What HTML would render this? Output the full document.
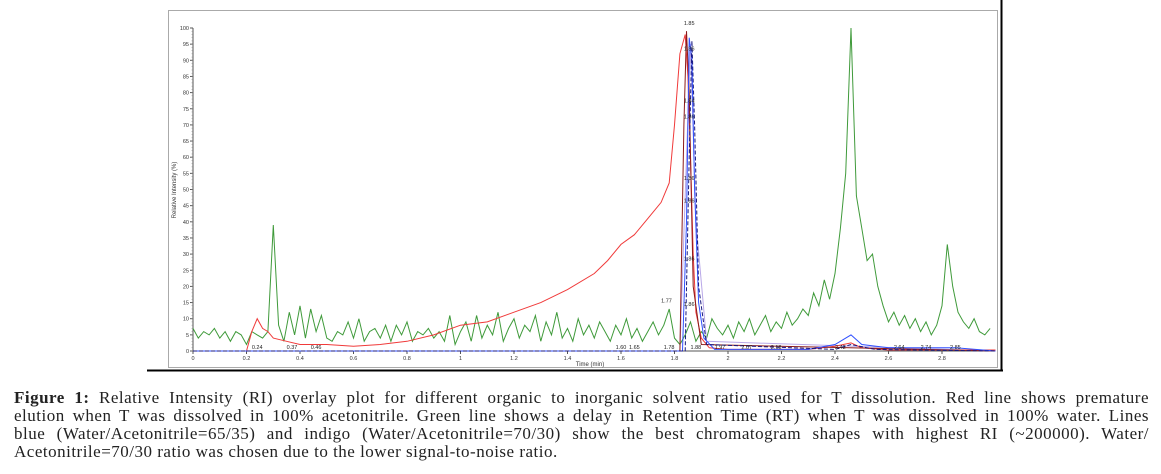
<!DOCTYPE html>
<html><head><meta charset="utf-8"><style>
html,body{margin:0;padding:0;background:#fff;width:1161px;height:474px;overflow:hidden}
#cap{position:absolute;left:14px;top:389px;width:1135px;font-family:"Liberation Serif",serif;font-size:17px;line-height:18px;color:#222;letter-spacing:0.5px;white-space:nowrap}
#cap div{text-align:justify;text-align-last:justify;height:18px}
#cap div.last{text-align-last:left}
#cap b{font-weight:bold}
</style></head><body>
<svg id="chart" width="1161" height="380" style="position:absolute;left:0;top:0" font-family="Liberation Sans, sans-serif">
<line x1="147" y1="370.5" x2="1003" y2="370.5" stroke="#000" stroke-width="2"/>
<line x1="1001.5" y1="0" x2="1001.5" y2="371" stroke="#000" stroke-width="2"/>
<rect x="168.5" y="10.5" width="829" height="357" fill="none" stroke="#aaa"/>
<g id="axes"></g><g id="series"></g><g id="labels"></g>
<text x="176" y="190" font-size="6" fill="#333" text-anchor="middle" transform="rotate(-90 176 190)">Relative Intensity (%)</text>
<text x="590" y="366" font-size="6" fill="#333" text-anchor="middle">Time (min)</text>
</svg>
<div id="cap">
<div style="white-space:normal"><b>Figure 1:</b> Relative Intensity (RI) overlay plot for different organic to inorganic solvent ratio used for T dissolution. Red line shows premature</div>
<div style="white-space:normal">elution when T was dissolved in 100% acetonitrile. Green line shows a delay in Retention Time (RT) when T was dissolved in 100% water. Lines</div>
<div style="white-space:normal">blue (Water/Acetonitrile=65/35) and indigo (Water/Acetonitrile=70/30) show the best chromatogram shapes with highest RI (~200000). Water/</div>
<div class="last">Acetonitrile=70/30 ratio was chosen due to the lower signal-to-noise ratio.</div>
</div>
<script>
const xTicks=[0,0.2,0.4,0.6,0.8,1,1.2,1.4,1.6,1.8,2,2.2,2.4,2.6,2.8];
const yTicks=[0,5,10,15,20,25,30,35,40,45,50,55,60,65,70,75,80,85,90,95,100];
const greenStep=0.02;
const greenVals=[7,4,6,5,7,4,6,3,6,5, 2,6,5,4,6, 39,8, 3,12,5,14,4,13,6,11,
4,3,6,5,9,4,10,3,6,7, 4,8,3,8,5,9,3,6,5,7,4,6,3,11,2,
6,9,3,11,4,8,5,12,3,7,10,4,8,6,11,3,9,5,12,4,
7,3,10,5,8,4,9,6,3,8,5,10,4,7,3,6,9,5,8,13,
4,2,5,9,3,6,4,10,7,5, 8,4,9,6,10,5,8,11,6,9,7,12,8,10,13,
11,18,14,22,16,24,38,55,100,48, 38,28,30,20,14,9,12,8,11,7,
10,6,9,5,8,14,33,20,12,9,7,10,6,5,7];
const redT=[0,0.2,0.22,0.24,0.26,0.28,0.30,0.35,0.4,0.5,0.6,0.7,0.8,0.9,1.0,1.1,1.2,1.3,1.4,1.5,1.55,1.6,1.65,1.7,1.75,1.78,1.80,1.82,1.84,1.85,1.86,1.87,1.88,1.90,1.93,2.0,2.3,2.4,2.46,2.5,2.6,3.0];
const redV=[0,0,6,10,7,6,4,3,2,2,1.5,2,3,5,8,9,12,15,19,24,28,33,36,41,46,52,70,92,98,85,60,30,12,4,1,0.5,0.5,1.5,2.5,1,0.3,0.3];
const blueT=[0,1.83,1.845,1.855,1.865,1.875,1.89,1.91,1.95,2.3,2.4,2.46,2.5,2.6,2.85,3.0];
const blueV=[0,0,40,97,90,50,15,4,0.5,0.5,2,5,2,1,1,0];
const navyT=[0,1.84,1.855,1.865,1.875,1.89,1.92,2.4,2.46,2.55,3.0];
const navyV=[0,0,60,96,70,20,2,0.5,2,0.5,0];
const darkT=[0,1.82,1.835,1.845,1.855,1.87,1.9,3.0];
const darkV=[0,0,70,99,80,20,2,0];
const lilacT=[0,1.82,1.845,1.86,1.88,1.92,3.0];
const lilacV=[0,0,60,95,40,3,0];
const peakLabels=["0.24","0.37","0.46","1.60","1.65","1.78","1.88","1.97","2.07","2.18","2.42","2.64","2.74","2.85"];
const peakTimes=[0.24,0.37,0.46,1.60,1.65,1.78,1.88,1.97,2.07,2.18,2.42,2.64,2.74,2.85];
const stackLabels=["1.85","1.86","1.84","1.86","1.86","1.86","1.86","1.86"];
const stackVals=[101,93,77,72,53,46,28,14];
const NS='http://www.w3.org/2000/svg';
const X=t=>193+t*267.5, Y=v=>351-v*3.23;
function mk(tag,attrs,parent){const e=document.createElementNS(NS,tag);for(const k in attrs)e.setAttribute(k,attrs[k]);parent.appendChild(e);return e;}
const ax=document.getElementById('axes');
const a1=mk('line',{x1:X(0),y1:Y(0),x2:X(3.0),y2:Y(0),stroke:'#555','stroke-width':1},ax);


const a2=mk('line',{x1:X(0),y1:Y(0),x2:X(0),y2:Y(100),stroke:'#555','stroke-width':1},ax);


yTicks.forEach(v=>{
  mk('line',{x1:X(0)-3,y1:Y(v),x2:X(0),y2:Y(v),stroke:'#555'},ax);
  const t=mk('text',{x:X(0)-4,y:Y(v)+2,'font-size':5.5,'text-anchor':'end',fill:'#333'},ax);t.textContent=v;
  
  
});
for(let v=0;v<100;v+=1){mk('line',{x1:X(0)-1.5,y1:Y(v),x2:X(0),y2:Y(v),stroke:'#888','stroke-width':0.5},ax);}
xTicks.forEach(v=>{
  mk('line',{x1:X(v),y1:Y(0),x2:X(v),y2:Y(0)+3,stroke:'#555'},ax);
  const t=mk('text',{x:X(v),y:Y(0)+9,'font-size':5.5,'text-anchor':'middle',fill:'#333'},ax);t.textContent=v;
  
  
});
const sg=document.getElementById('series');
function line(ts,vs,color,name,extra){
  const d=ts.map((t,i)=>(i?'L':'M')+X(t).toFixed(1)+','+Y(vs[i]).toFixed(1)).join('');
  const p=mk('path',Object.assign({d:d,fill:'none',stroke:color,'stroke-width':1},extra||{}),sg);
  
  
}
const gT=greenVals.map((v,i)=>i*greenStep);
line(gT,greenVals,'#3f9a3a','green-series-water');
line(lilacT,lilacV,'#b9a8e8','lilac-series');
line(redT,redV,'#f03a3a','red-series-acetonitrile');
line(darkT,darkV,'#8a1a1a','darkred-series');
line(blueT,blueV,'#3050ff','blue-series-65-35');
line(navyT,navyV,'#1a1a80','indigo-series-70-30',{'stroke-dasharray':'4,2'});
const lg=document.getElementById('labels');
peakTimes.forEach((t,i)=>{
  const e=mk('text',{x:X(t),y:Y(0)-2,'font-size':5.5,'text-anchor':'middle',fill:'#222'},lg);e.textContent=peakLabels[i];
  
  
});
stackVals.forEach((v,i)=>{
  const e=mk('text',{x:X(1.855),y:Y(v),'font-size':5.5,'text-anchor':'middle',fill:'#222'},lg);e.textContent=stackLabels[i];
  
  
});
const g77=mk('text',{x:X(1.77),y:Y(15),'font-size':5.5,'text-anchor':'middle',fill:'#222'},lg);g77.textContent='1.77';


</script>
</body></html>
